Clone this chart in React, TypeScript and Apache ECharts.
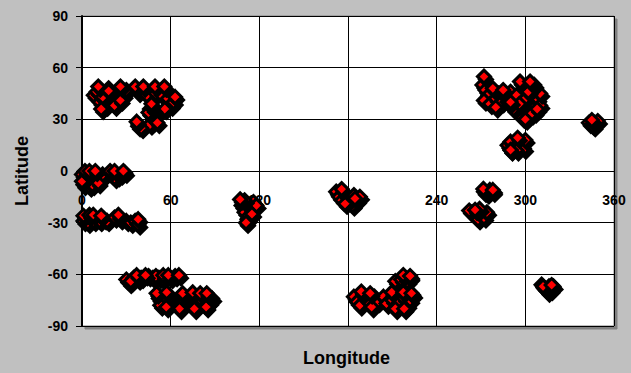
import React, { useEffect, useRef } from "react";
import * as echarts from "echarts";

// [longitude, latitude] pairs (hidden points first, visible red ones later)
const northEastAtlantic: number[][] = [
  [8, 44], [12, 40], [16, 38], [10, 46], [20, 42], [24, 44], [18, 48], [14, 43], [22, 38], [28, 44], [30, 47],
  [38, 46], [44, 44], [50, 45], [46, 36], [47, 32], [48, 29], [46, 27], [49, 30], [50, 33], [38, 26], [40, 25],
  [54, 44], [58, 42], [60, 38], [62, 40], [56, 36], [45, 34], [48, 36], [51, 28], [13, 36], [26, 41],
];
const equatorWest: number[][] = [
  [0, -2], [2, -5], [4, -7], [6, -4], [8, -6], [10, -3], [12, -5], [14, -2], [1, -8], [5, -9],
  [20, -2], [24, -3], [26, -2], [22, -4], [29, -1], [3, -3], [7, -8], [11, -7], [0, -6],
];
const southAtlantic: number[][] = [
  [1, -29], [4, -30], [8, -29], [12, -29], [15, -28], [17, -29], [22, -27], [26, -28], [30, -29], [33, -30], [36, -29], [38, -31],
];
const southernOceanA: number[][] = [
  [30, -63], [32, -65], [35, -62], [38, -63], [40, -62], [45, -61], [48, -62], [52, -62], [55, -63], [60, -62], [63, -61], [33, -64], [50, -61],
  [52, -74], [55, -76], [58, -78], [62, -76], [64, -78], [68, -77], [72, -76], [75, -78], [78, -76], [82, -77], [86, -76], [88, -74],
  [60, -73], [70, -73], [80, -74], [85, -72], [53, -78], [66, -80], [76, -80], [84, -79], [57, -79],
];
const indonesia: number[][] = [
  [108, -20], [110, -24], [112, -28], [114, -22], [116, -18], [118, -20], [113, -26], [110, -17], [115, -25], [111, -30],
];
const pacificSouth: number[][] = [
  [172, -12], [174, -15], [176, -17], [178, -13], [180, -16], [182, -18], [184, -14], [186, -17], [188, -15], [183, -20], [178, -19],
];
const southernOceanB: number[][] = [
  [184, -73], [186, -76], [188, -78], [192, -74], [195, -77], [198, -73], [200, -76], [204, -73], [206, -77], [210, -75], [214, -77],
  [218, -74], [220, -78], [222, -75], [224, -72], [212, -64], [216, -63], [220, -64], [222, -62], [196, -79], [212, -80], [218, -80],
];
const northAmerica: number[][] = [
  [271, 50], [273, 47], [275, 44], [272, 41], [276, 39], [280, 42], [282, 45], [278, 48], [284, 40], [286, 44], [280, 37],
  [290, 46], [292, 42], [294, 38], [296, 34], [298, 31], [300, 36], [302, 40], [304, 44], [306, 47], [308, 42], [310, 38],
  [306, 34], [302, 32], [296, 45], [300, 48], [298, 42], [292, 36], [288, 40], [310, 45], [304, 37], [298, 50], [306, 50],
  [294, 44], [300, 42], [302, 46], [296, 39], [304, 33], [308, 36], [300, 30], [290, 40], [285, 47],
  [288, 15], [290, 17], [293, 14], [296, 16], [299, 13], [300, 18], [294, 12], [290, 12],
  [343, 28], [345, 27], [347, 28], [349, 29], [346, 26],
];
const eastPacific: number[][] = [
  [272, -12], [274, -13], [276, -11], [278, -12], [264, -24], [266, -26], [268, -28], [270, -25], [272, -27], [274, -24], [262, -23], [269, -22],
  [313, -68], [315, -70], [317, -69], [319, -67], [311, -66], [316, -67],
];
const visiblePoints: number[][] = [
  [11, 49], [18, 46.5], [26, 49], [36, 49], [41.5, 49], [49.4, 49], [55.7, 49], [63, 43], [47, 39], [37, 28.6],
  [2, 0], [5, 0], [9, 0], [19, 0], [22, 0], [28, 0],
  [1, -26], [5, -25.5], [7.6, -25.5], [13, -26], [24.6, -25.5], [38, -28],
  [37, -60.5], [43, -60.5], [55, -60.5], [58.4, -60.5], [65.6, -60.5],
  [50.5, -71], [57.3, -70.5], [68.1, -71], [74.9, -70.5], [80, -71], [84.4, -71],
  [107, -16.5], [175.7, -10.5], [184.7, -16],
  [189, -70], [195, -71], [209.6, -70.4], [217.4, -70.4], [223, -71], [217.4, -60.4], [222, -61],
  [272, 54.8], [296.4, 51.9], [303.2, 51.9], [294.8, 19.3], [290, 12.2], [345, 29.6],
  [271.6, -10.4], [278, -11], [266, -22.6], [312, -67], [317.8, -66.2],
];

const xTicks = [0, 60, 120, 180, 240, 300, 360];
const yTicks = [-90, -60, -30, 0, 30, 60, 90];
const xTitle = "Longitude";
const yTitle = "Latitude";

const FONT = "'Liberation Sans', Arial, sans-serif";

export default function App() {
  const ref = useRef<HTMLDivElement>(null);
  useEffect(() => {
    if (!ref.current) return;
    const chart = echarts.init(ref.current, undefined, { renderer: "svg" });
    const background = [
      ...northEastAtlantic, ...equatorWest, ...southAtlantic, ...southernOceanA, ...indonesia,
      ...pacificSouth, ...southernOceanB, ...northAmerica, ...eastPacific,
    ];
    const markerStyle = {
      type: "scatter" as const,
      symbol: "diamond",
      symbolSize: 13,
      itemStyle: {
        color: "#ff0000", borderColor: "#000000", borderWidth: 3, opacity: 1,
        shadowColor: "#000000", shadowOffsetX: 2, shadowOffsetY: 3, shadowBlur: 1,
      },
      emphasis: { disabled: true },
    };
    chart.setOption({
      animation: false,
      backgroundColor: "#c0c0c0",
      grid: {
        left: 82, top: 16, right: 17, bottom: 47,
        outerBoundsMode: "none",
        containLabel: false,
        show: true, backgroundColor: "#ffffff", borderColor: "#808080", borderWidth: 1,
        shadowColor: "#808080", shadowOffsetX: 3, shadowOffsetY: 3, shadowBlur: 0,
      },
      graphic: [
        {
          type: "text", left: 348 - 45, top: 349,
          style: { text: xTitle, fontFamily: FONT, fontWeight: "bold", fontSize: 18, fill: "#000" },
        },
        {
          type: "text", x: 13, y: 171 + 35, rotation: Math.PI / 2,
          style: { text: yTitle, fontFamily: FONT, fontWeight: "bold", fontSize: 18, fill: "#000", textAlign: "left", textVerticalAlign: "top" },
        },
      ],
      xAxis: {
        type: "value",
        position: "bottom",
        offset: -155,
        min: xTicks[0], max: xTicks[xTicks.length - 1], interval: 60,
        axisLine: { show: true, onZero: false, lineStyle: { color: "#000", width: 1 } },
        axisTick: { show: true, inside: false, length: 5, lineStyle: { color: "#000" } },
        axisLabel: { margin: 22, fontFamily: FONT, fontWeight: "bold", fontSize: 14, color: "#000" },
        splitLine: { show: true, lineStyle: { color: "#000", width: 1 } },
      },
      yAxis: {
        type: "value",
        min: yTicks[0], max: yTicks[yTicks.length - 1], interval: 30,
        axisLine: { show: true, onZero: false, lineStyle: { color: "#000", width: 2 } },
        axisTick: { show: true, inside: false, length: 6, lineStyle: { color: "#000", width: 1 } },
        axisLabel: { margin: 14, fontFamily: FONT, fontWeight: "bold", fontSize: 14, color: "#000" },
        splitLine: { show: true, lineStyle: { color: "#000", width: 1 } },
      },
      series: [
        { ...markerStyle, name: "hidden", data: background },
        { ...markerStyle, name: "visible", data: visiblePoints },
      ],
    });
    return () => chart.dispose();
  }, []);
  return <div ref={ref} style={{ width: 631, height: 373, position: "absolute", left: 0, top: 0 }} />;
}
